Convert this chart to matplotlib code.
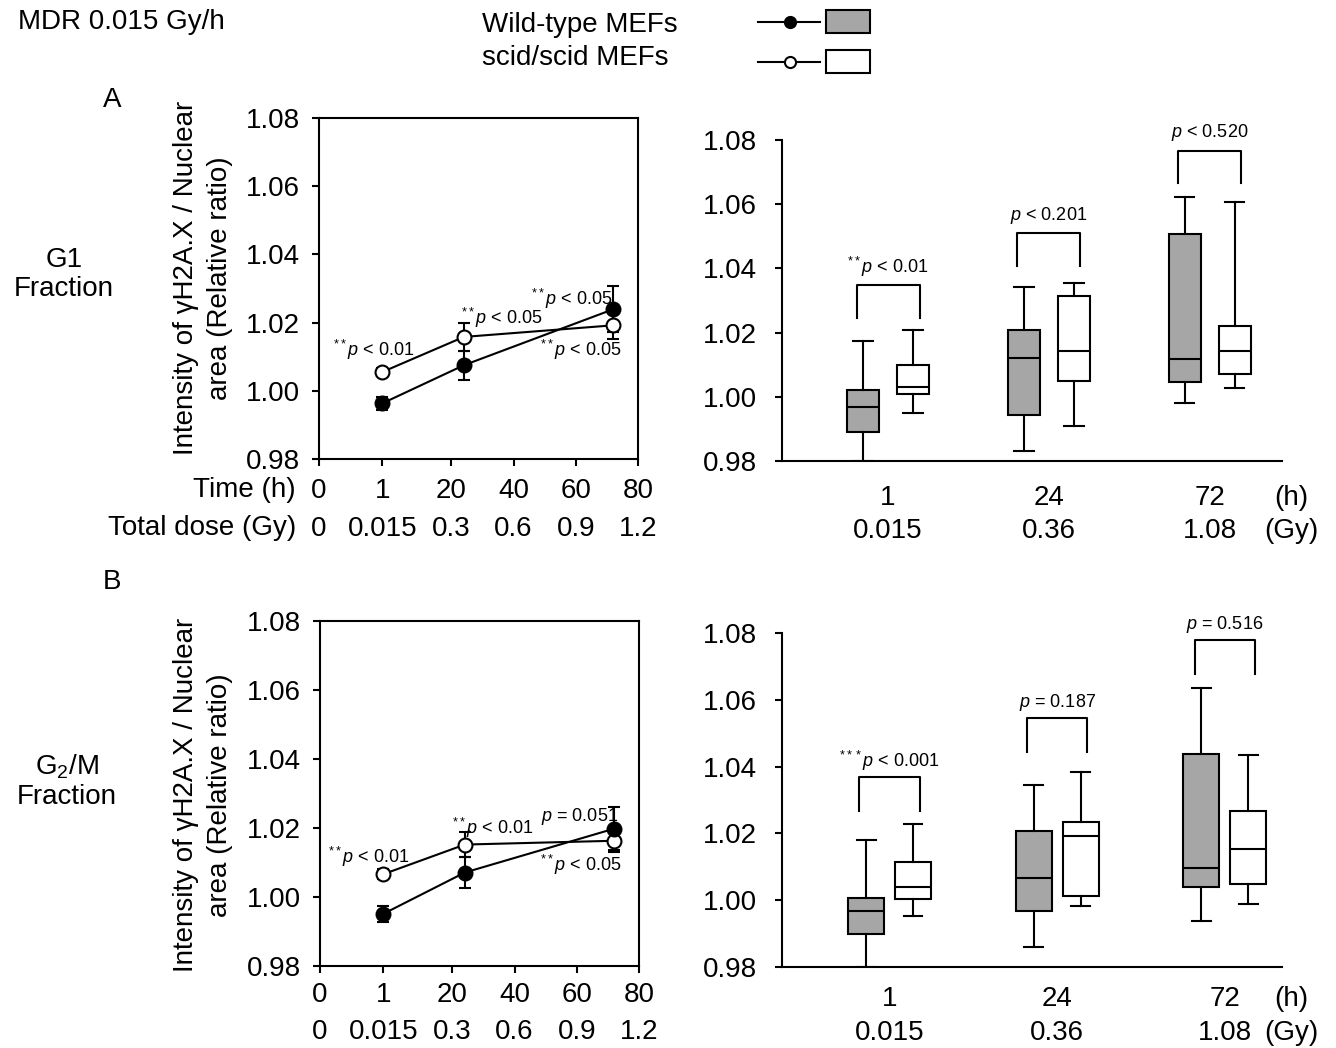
import numpy as np
import matplotlib.pyplot as plt
from matplotlib.lines import Line2D
from matplotlib.patches import Rectangle

plt.rcParams['font.family'] = ['Liberation Sans', 'DejaVu Sans']
plt.rcParams['mathtext.fontset'] = 'custom'
plt.rcParams['mathtext.rm'] = 'Liberation Sans'
plt.rcParams['mathtext.it'] = 'Liberation Sans:italic'

W, H = 1336, 1048

# ---- time course data (mean +/- error) ----
hours = [1, 24, 72]
g1_wt_mean = [0.9963, 1.0075, 1.0239]
g1_wt_err = [0.0020, 0.0043, 0.0068]
g1_scid_mean = [1.0055, 1.0158, 1.0192]
g1_scid_err = [0.0012, 0.0040, 0.0041]
g2m_wt_mean = [0.9951, 1.0071, 1.0198]
g2m_wt_err = [0.0023, 0.0044, 0.0063]
g2m_scid_mean = [1.0066, 1.0152, 1.0163]
g2m_scid_err = [0.0015, 0.0035, 0.0034]

time_ticks = [0, 1, 20, 40, 60, 80]
dose_ticks = ['0', '0.015', '0.3', '0.6', '0.9', '1.2']

g1_line_notes = [r'$^{**}p$ < 0.01', r'$^{**}p$ < 0.05', r'$^{**}p$ < 0.05', r'$^{**}p$ < 0.05']
g2m_line_notes = [r'$^{**}p$ < 0.01', r'$^{**}p$ < 0.01', r'$p$ = 0.051', r'$^{**}p$ < 0.05']

# ---- box plot data: whisker low, q1, median, q3, whisker high ----
box_hours = ['1', '24', '72']
box_doses = ['0.015', '0.36', '1.08']
g1_wt_box = [
    [0.9800, 0.9891, 0.9967, 1.0021, 1.0175],
    [0.9832, 0.9943, 1.0120, 1.0208, 1.0343],
    [0.9982, 1.0047, 1.0117, 1.0506, 1.0621],
]
g1_scid_box = [
    [0.9949, 1.0009, 1.0032, 1.0099, 1.0208],
    [0.9909, 1.0050, 1.0143, 1.0314, 1.0354],
    [1.0026, 1.0071, 1.0143, 1.0221, 1.0608],
]
g2m_wt_box = [
    [0.9800, 0.9898, 0.9968, 1.0007, 1.0180],
    [0.9860, 0.9968, 1.0067, 1.0208, 1.0344],
    [0.9937, 1.0040, 1.0097, 1.0439, 1.0634],
]
g2m_scid_box = [
    [0.9952, 1.0005, 1.0040, 1.0115, 1.0229],
    [0.9983, 1.0012, 1.0192, 1.0235, 1.0385],
    [0.9989, 1.0050, 1.0154, 1.0268, 1.0435],
]
g1_pvals = [r'$^{**}p$ < 0.01', r'$p$ < 0.201', r'$p$ < 0.520']
g2m_pvals = [r'$^{***}p$ < 0.001', r'$p$ = 0.187', r'$p$ = 0.516']

GRAY = '#a6a6a6'
LW = 1.5
FS = 20
NOTE_FS = 13

# broken-looking time axis: 0..1 stretched, then linear 20..80
knots_h = [-10, 0, 1, 20, 80, 200]
knots_px = [-630, 0, 63, 132, 318, 690]


def fwd(h):
    return np.interp(h, knots_h, knots_px)


def inv(p):
    return np.interp(p, knots_px, knots_h)


def px_axes(x0, y0, x1, y1):
    return fig.add_axes([x0 / W, 1 - y1 / H, (x1 - x0) / W, (y1 - y0) / H])


def style_ticks(ax, ypad):
    ax.tick_params(axis='y', direction='out', length=5, width=LW, labelsize=FS, pad=ypad)
    ax.set_ylim(0.98, 1.08)
    ax.set_yticks([0.98, 1.00, 1.02, 1.04, 1.06, 1.08])
    ax.set_yticklabels(['0.98', '1.00', '1.02', '1.04', '1.06', '1.08'])
    for s in ax.spines.values():
        s.set_linewidth(LW)


def line_panel(ax, wt_m, wt_e, sc_m, sc_e, notes, note_pos, xpad):
    ax.set_xscale('function', functions=(fwd, inv))
    ax.set_xlim(0, 80)
    style_ticks(ax, 9)
    ax.errorbar(hours, sc_m, yerr=sc_e, fmt='-o', color='black', mfc='white',
                mec='black', ms=10, mew=LW, lw=LW, elinewidth=LW, capsize=4, capthick=LW)
    ax.errorbar(hours, wt_m, yerr=wt_e, fmt='-o', color='black', mfc='black',
                mec='black', ms=10, mew=LW, lw=LW, elinewidth=LW, capsize=4, capthick=LW)
    ax.set_xticks(time_ticks)
    ax.set_xticklabels([f'{t}\n{d}' for t, d in zip(time_ticks, dose_ticks)])
    ax.tick_params(axis='x', direction='out', length=5, width=LW, labelsize=FS, pad=xpad)
    for lbl in ax.get_xticklabels():
        lbl.set_linespacing(1.57)
    for txt, (x, y) in zip(notes, note_pos):
        ax.text(x, y, txt, transform=ax.transAxes, ha='center', va='center', fontsize=NOTE_FS)


def box_panel(ax, wt, sc, pvals, off, width, capw, xlim, br_y, txt_dy, xpad):
    groups = np.arange(1, len(wt) + 1)
    keys = ['whislo', 'q1', 'med', 'q3', 'whishi']
    props = dict(patch_artist=True, showfliers=False, manage_ticks=False,
                 medianprops=dict(color='black', lw=LW),
                 whiskerprops=dict(color='black', lw=LW),
                 capprops=dict(color='black', lw=LW))
    for data, pos, fc in [(wt, groups - off, GRAY), (sc, groups + off, 'white')]:
        stats = [dict(zip(keys, row)) for row in data]
        ax.bxp(stats, positions=pos, widths=width, capwidths=capw,
               boxprops=dict(facecolor=fc, edgecolor='black', lw=LW), **props)
    for g, txt, y in zip(groups, pvals, br_y):
        xa, xb = g - off - 0.04, g + off + 0.04
        ax.plot([xa, xa, xb, xb], [y - 0.0102, y, y, y - 0.0102], color='black', lw=LW)
        ax.text((xa + xb) / 2, y + txt_dy, txt, ha='center', va='center', fontsize=NOTE_FS)
    ax.set_xlim(*xlim)
    style_ticks(ax, 13)
    ax.spines['top'].set_visible(False)
    ax.spines['right'].set_visible(False)
    ax.set_xticks(groups)
    ax.set_xticklabels([f'{h}\n{d}' for h, d in zip(box_hours, box_doses)])
    ax.tick_params(axis='x', length=0, labelsize=FS, pad=xpad)
    for lbl in ax.get_xticklabels():
        lbl.set_linespacing(1.37)
    ax.annotate('(h)\n(Gy)', xy=(1.018, 0), xycoords='axes fraction', xytext=(0, -xpad),
                textcoords='offset points', ha='center', va='top', fontsize=FS,
                linespacing=1.37, annotation_clip=False)


fig = plt.figure(figsize=(W / 100, H / 100), dpi=100)

ax_a1 = px_axes(319, 118, 638, 459)
line_panel(ax_a1, g1_wt_mean, g1_wt_err, g1_scid_mean, g1_scid_err, g1_line_notes,
           [(0.172, 0.320), (0.574, 0.413), (0.793, 0.469), (0.821, 0.320)], 9)
ax_b1 = px_axes(320, 621, 639, 966)
line_panel(ax_b1, g2m_wt_mean, g2m_wt_err, g2m_scid_mean, g2m_scid_err, g2m_line_notes,
           [(0.154, 0.316), (0.542, 0.400), (0.815, 0.432), (0.818, 0.293)], 6.5)

ax_a2 = px_axes(782, 140, 1282, 461)
box_panel(ax_a2, g1_wt_box, g1_scid_box, g1_pvals, 0.1555, 0.2, 0.12, (0.34, 3.45),
          [1.0348, 1.0509, 1.0767], 0.0055, 17)
ax_b2 = px_axes(782, 633, 1282, 967)
box_panel(ax_b2, g2m_wt_box, g2m_scid_box, g2m_pvals, 0.14, 0.2146, 0.113, (0.359, 3.34),
          [1.0368, 1.0545, 1.0778], 0.0048, 14)

# labels around the panels
ylab = 'Intensity of \u03b3H2A.X / Nuclear\narea (Relative ratio)'
fig.text(203 / W, 1 - 278 / H, ylab, rotation=90, ha='center', va='center',
         fontsize=FS, linespacing=1.4)
fig.text(203 / W, 1 - 795 / H, ylab, rotation=90, ha='center', va='center',
         fontsize=FS, linespacing=1.4)
fig.text(296 / W, 1 - 490 / H, 'Time (h)', ha='right', va='center', fontsize=FS)
fig.text(296 / W, 1 - 528 / H, 'Total dose (Gy)', ha='right', va='center', fontsize=FS)
fig.text(64 / W, 1 - 274 / H, 'G1\nFraction', ha='center', va='center', fontsize=FS,
         linespacing=1.15)
fig.text(67 / W, 1 - 781 / H, 'G$_2$/M\nFraction', ha='center', va='center', fontsize=FS,
         linespacing=1.15)
fig.text(112 / W, 1 - 100 / H, 'A', ha='center', va='center', fontsize=FS)
fig.text(112 / W, 1 - 582 / H, 'B', ha='center', va='center', fontsize=FS)
fig.text(18 / W, 1 - 22 / H, 'MDR 0.015 Gy/h', ha='left', va='center', fontsize=FS)

# legend
fig.text(482 / W, 1 - 25 / H, 'Wild-type MEFs', ha='left', va='center', fontsize=FS)
fig.text(482 / W, 1 - 58 / H, 'scid/scid MEFs', ha='left', va='center', fontsize=FS)
for yc, mfc, fc, ry in [(22, 'black', GRAY, 10), (62, 'white', 'white', 50)]:
    fig.add_artist(Line2D([758 / W, 820 / W], [1 - yc / H] * 2, color='black', lw=LW,
                          transform=fig.transFigure))
    fig.add_artist(Line2D([790 / W], [1 - yc / H], marker='o', ms=8, mfc=mfc, mec='black',
                          mew=LW, transform=fig.transFigure))
    fig.add_artist(Rectangle((826 / W, 1 - (ry + 23) / H), 44 / W, 23 / H, facecolor=fc,
                             edgecolor='black', lw=LW, transform=fig.transFigure))

fig.savefig('out.png', dpi=100)
